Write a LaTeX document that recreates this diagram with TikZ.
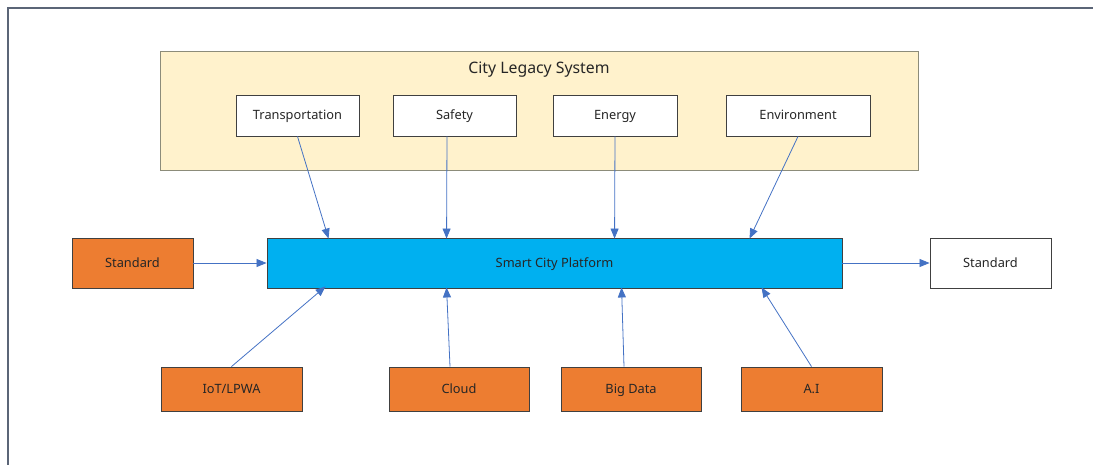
\documentclass[tikz,border=0pt]{standalone}
\usepackage{fontspec}
\setmainfont{Noto Sans}
\usetikzlibrary{arrows.meta}
\definecolor{framec}{HTML}{5B6577}
\definecolor{legacyfill}{HTML}{FFF2CC}
\definecolor{legacydraw}{HTML}{8C8C7A}
\definecolor{platfill}{HTML}{00B0F0}
\definecolor{orangefill}{HTML}{ED7D31}
\definecolor{arrowc}{HTML}{4472C4}
\definecolor{boxdraw}{HTML}{404040}
\tikzset{
  box/.style={draw=boxdraw, line width=0.9pt, inner sep=0pt, font=\fontsize{12.8}{15}\selectfont, text=black!85, text height=0.9em, text depth=0.1em},
  whitebox/.style={box, fill=white},
  orangebox/.style={box, fill=orangefill},
  platbox/.style={box, fill=platfill},
  conn/.style={draw=arrowc, line width=0.8pt, -{Triangle[length=10pt,width=8pt]}}
}
\begin{document}
\begin{tikzpicture}[x=1pt,y=-1pt]
\useasboundingbox (0,0) rectangle (1093,464);
\begin{scope}
\clip (0,0) rectangle (1093,464);
\draw[framec, line width=2.2pt] (8,8) rectangle (1110,480);
\end{scope}
% legacy container
\node[draw=legacydraw, line width=0.9pt, fill=legacyfill, minimum width=758pt, minimum height=119pt, inner sep=0pt] (legacy) at (539,110.5) {};
\node[font=\fontsize{15.8}{18}\selectfont, text=black!85] (legtitle) at (539,70) {City Legacy System};
% legacy subsystems
\node[whitebox, minimum width=123pt, minimum height=41pt] (trans) at (297.5,115.5) {Transportation};
\node[whitebox, minimum width=123pt, minimum height=41pt] (safety) at (454.5,115.5) {Safety};
\node[whitebox, minimum width=124pt, minimum height=41pt] (energy) at (615,115.5) {Energy};
\node[whitebox, minimum width=144pt, minimum height=41pt] (env) at (798,115.5) {Environment};
% platform row
\node[platbox, minimum width=575pt, minimum height=50pt] (plat) at (554.5,263) {Smart City Platform};
\node[orangebox, minimum width=121pt, minimum height=50pt] (stdl) at (132.5,263) {Standard};
\node[whitebox, minimum width=121pt, minimum height=50pt] (stdr) at (990.5,263) {Standard};
% bottom row
\node[orangebox, minimum width=141pt, minimum height=44pt] (iot) at (231.5,389) {IoT/LPWA};
\node[orangebox, minimum width=140pt, minimum height=44pt] (cloud) at (459,389) {Cloud};
\node[orangebox, minimum width=140pt, minimum height=44pt] (bigdata) at (631,389) {Big Data};
\node[orangebox, minimum width=141pt, minimum height=44pt] (ai) at (811.5,389) {A.I};
% connectors from legacy
\draw[conn] (trans.south) -- ([xshift=62pt,yshift=-1pt]plat.north west);
\draw[conn] ([xshift=-7.5pt]safety.south) -- ([xshift=180pt,yshift=-1pt]plat.north west);
\draw[conn] (energy.south) -- ([xshift=348pt,yshift=-1pt]plat.north west);
\draw[conn] (env.south) -- ([xshift=483pt,yshift=-1pt]plat.north west);
% horizontal
\draw[conn] (stdl.east) -- (plat.west);
\draw[conn] (plat.east) -- (stdr.west);
% bottom
\draw[conn] (iot.north) -- ([xshift=59pt,yshift=2pt]plat.south west);
\draw[conn] ([xshift=-9pt]cloud.north) -- ([xshift=180pt,yshift=1pt]plat.south west);
\draw[conn] ([xshift=-7pt]bigdata.north) -- ([xshift=355pt,yshift=1pt]plat.south west);
\draw[conn] (ai.north) -- ([xshift=495pt,yshift=1pt]plat.south west);
\end{tikzpicture}
\end{document}
